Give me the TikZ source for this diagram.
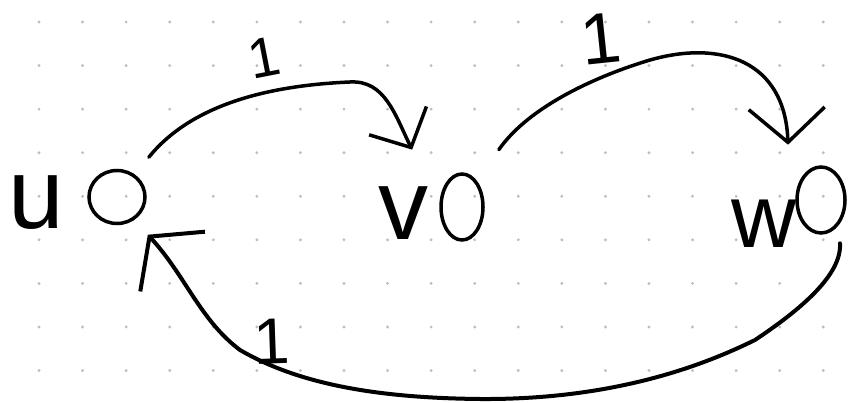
\documentclass[tikz,border=0pt]{standalone}
\usepackage{fontspec}
\setmainfont{Liberation Sans}
\usetikzlibrary{arrows.meta,shapes.geometric}
\definecolor{dotgray}{RGB}{190,190,190}
\begin{document}
\begin{tikzpicture}[x=1pt,y=-1pt,
  edge/.style={line width=3.5pt, line cap=round, line join=round},
  vert/.style={draw, ellipse, line width=3.5pt, inner sep=0pt, outer sep=0pt},
  letter/.style={inner sep=0pt, anchor=south, font=\fontsize{100}{100}\selectfont},
  weight/.style={inner sep=0pt}]
\fill[white] (0,0) rectangle (853,403);
\useasboundingbox (0,0) rectangle (853,403);
\foreach \i in {0,...,18}{\foreach \j in {0,...,8}{\fill[dotgray] (39+43.57*\i, 22+43.57*\j) circle[radius=1.6pt];}}
% vertices
\node[vert, minimum width=56pt, minimum height=53pt] (uc) at (117,197) {};
\node[vert, minimum width=42pt, minimum height=66pt] (vc) at (462,207) {};
\node[vert, minimum width=48pt, minimum height=66pt] (wc) at (821,200) {};
\node[letter] (u) at (36,230) {u};
\node[letter] (v) at (403,240) {v};
\node[letter, font=\fontsize{90}{90}\selectfont] (w) at (764,248) {w};
% edges
\draw[edge, -{Straight Barb[length=30pt,width=64pt]}]
  ([shift={(12,-21)}]uc.north east) .. controls (195,100) and (280,85) .. (350,82)
  .. controls (385,80) and (395,115) .. ([shift={(-35,-34)}]vc.north west);
\draw[edge, -{Straight Barb[length=34pt,width=76pt]}]
  ([shift={(22,-34)}]vc.north east) .. controls (530,105) and (600,75) .. (650,60)
  .. controls (720,40) and (785,60) .. ([shift={(-16,-32)}]wc.north west);
\draw[edge, line width=4pt, -{Straight Barb[length=34pt,width=88pt]}]
  ([shift={(2,20)}]wc.south east) .. controls (842,275) and (800,310) .. (755,340)
  .. controls (710,362) and (620,400) .. (480,399)
  .. controls (380,398) and (300,385) .. (240,350)
  .. controls (200,320) and (185,275) .. ([shift={(11,19)}]uc.south east);
% weights
\node[weight, rotate=11, font=\fontsize{56}{56}\selectfont] (l1) at (264,58) {1};
\node[weight, rotate=6, font=\fontsize{72}{72}\selectfont] (l2) at (601,39) {1};
\node[weight, rotate=2, font=\fontsize{65}{65}\selectfont] (l3) at (272,342) {1};
\end{tikzpicture}
\end{document}
